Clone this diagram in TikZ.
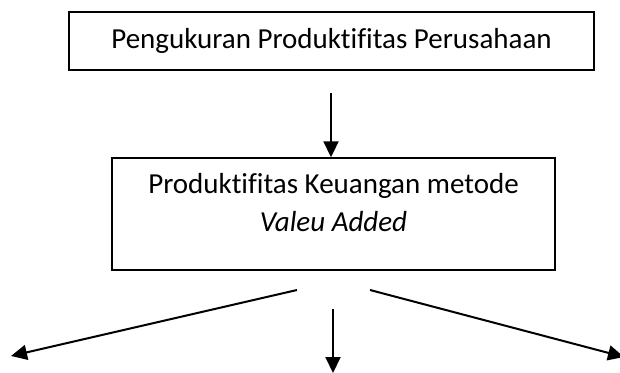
\documentclass[tikz,border=0pt]{standalone}
\usepackage{fontspec}
\setmainfont[Ligatures=NoCommon]{Carlito}
\usetikzlibrary{arrows.meta}

\begin{document}
\begin{tikzpicture}[x=1pt, y=-1pt,
  box/.style={draw, line width=1.4pt, align=center, font=\fontsize{29}{38}\selectfont, inner sep=0pt},
  link/.style={-{Triangle[length=16pt,width=15pt]}, line width=2pt},
]
\useasboundingbox (0,0) rectangle (620,372);
% ---- boxes ----
\node[box, minimum width=525pt, minimum height=58pt] (ukur) at (331.5,41) {Pengukuran Produktifitas Perusahaan};
\node[box, minimum width=443pt, minimum height=112pt, text depth=24pt] (va) at (333.5,214) {Produktifitas Keuangan metode\\\textit{Valeu Added}};
% ---- free arrow ends ----
\coordinate (ukurout) at (331,93);
\coordinate (vaL) at (297,290);
\coordinate (vaM) at (333,309);
\coordinate (vaR) at (370,290);
\coordinate (outL) at (11,356);
\coordinate (outM) at (333,373);
\coordinate (outR) at (624,357);
% ---- arrows ----
\draw[link] (ukurout) -- (ukurout |- va.north);
\draw[link] (vaL) -- (outL);
\draw[link] (vaM) -- (outM);
\draw[link] (vaR) -- (outR);
\end{tikzpicture}
\end{document}
